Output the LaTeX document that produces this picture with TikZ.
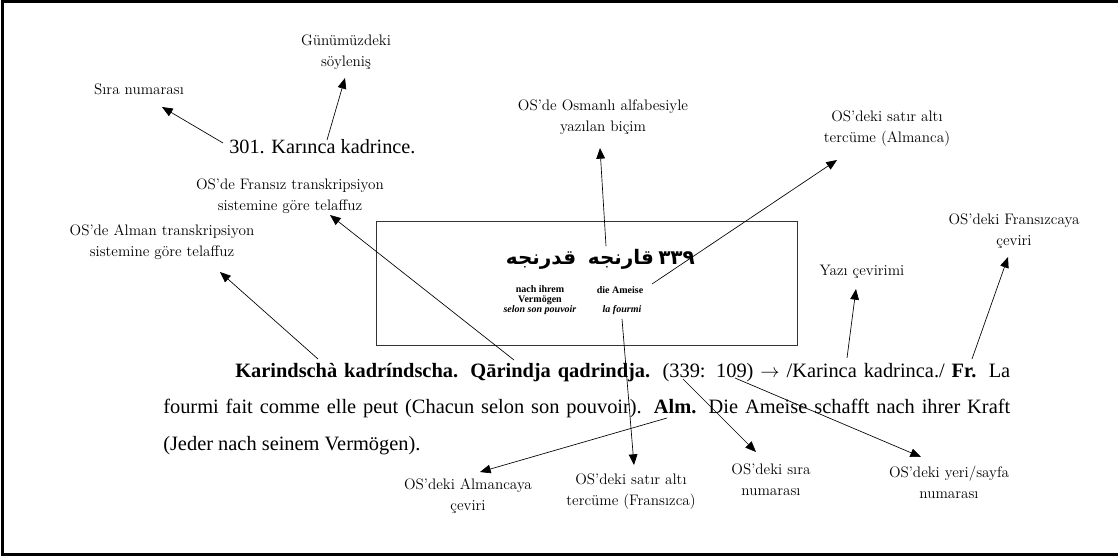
\documentclass[tikz,border=0pt]{standalone}
\usepackage{fontspec}
\usetikzlibrary{arrows.meta}
\newfontfamily\timesfont{Liberation Serif}
\newfontfamily\arabicfont[Script=Arabic]{DejaVu Sans}
\TeXXeTstate=1

\begin{document}
\begin{tikzpicture}[x=0.75pt,y=-0.75pt,
		etiket/.style={align=center,inner sep=0pt,font=\fontsize{11.4}{15.75}\selectfont},
		pil/.style={-{Triangle[length=8pt,width=6.5pt]},line width=0.5pt},
		satir/.style={anchor=base west,inner sep=0pt,font=\timesfont\fontsize{15.3}{27}\selectfont},
		arap/.style={inner sep=0pt,font=\arabicfont\bfseries\fontsize{15}{20}\selectfont},
		alti/.style={align=center,inner sep=0pt,font=\timesfont\bfseries\fontsize{7.5}{7.5}\selectfont}]
	\useasboundingbox (0,0) rectangle (1118,557);
	\draw[line width=2.25pt] (2,1.5) rectangle (1130,554.5);
	\draw[line width=0.6pt, black!80] (376,221) rectangle (797,345);
	% metin
	\node[anchor=base west,inner sep=0pt,font=\timesfont\fontsize{15.2}{18}\selectfont] (madde) at (229,153) {301. Karınca kadrince.};
	\node[arap,anchor=base] (kadr) at (541,264) {\beginR قدرنجه\endR};
	\node[arap,anchor=base] (kar) at (621,264) {\beginR قارنجه\endR};
	\node[arap,anchor=base west] (no) at (658,264) {٣٣٩};
	\node[alti] (nach) at (540,300) {nach ihrem\\Vermögen\\\textit{selon son pouvoir}};
	\node[alti] (ameise) at (620,290) {die Ameise};
	\node[alti] (fourmi) at (622,310) {\textit{la fourmi}};
	\node[satir] (line1) at (235,377) {\makebox[581.25pt][s]{\textbf{Karindschà kadríndscha. Qārindja qadrindja.} (339: 109) $\rightarrow$ /Karinca kadrinca./ \textbf{Fr.} La}};
	\node[satir] (line2) at (163,413) {\makebox[635.25pt][s]{fourmi fait comme elle peut (Chacun selon son pouvoir). \textbf{Alm.} Die Ameise schafft nach ihrer Kraft}};
	\node[satir] (line3) at (163,450) {(Jeder nach seinem Vermögen).};
	% etiketler
	\node[etiket] (gun) at (346,52) {Günümüzdeki\\söyleniş};
	\node[etiket] (sira) at (139,89) {Sıra numarası};
	\node[etiket] (fr) at (290,196) {OS’de Fransız transkripsiyon\\sistemine göre telaffuz};
	\node[etiket] (al) at (162,242) {OS’de Alman transkripsiyon\\sistemine göre telaffuz};
	\node[etiket] (osm) at (603,117.5) {OS’de Osmanlı alfabesiyle\\yazılan biçim};
	\node[etiket] (satal) at (887,129) {OS’deki satır altı\\tercüme (Almanca)};
	\node[etiket] (frc) at (1014,231) {OS’deki Fransızcaya\\çeviri};
	\node[etiket] (yazi) at (862,272) {Yazı çevirimi};
	\node[etiket] (satfr) at (631,492) {OS’deki satır altı\\tercüme (Fransızca)};
	\node[etiket] (alm) at (468,496.5) {OS’deki Almancaya\\çeviri};
	\node[etiket] (siraos) at (771,480) {OS’deki sıra\\numarası};
	\node[etiket] (sayfa) at (949,482.5) {OS’deki yeri/sayfa\\numarası};
	% oklar
	\coordinate (t-sira) at (223,143);   \coordinate (h-sira) at (162,107);
	\coordinate (t-gun) at (327,140);    \coordinate (h-gun) at (345,78);
	\coordinate (t-fr) at (514,360);     \coordinate (h-fr) at (330,215);
	\coordinate (t-al) at (318,359);     \coordinate (h-al) at (220,272);
	\coordinate (t-osm) at (606,246);    \coordinate (h-osm) at (600,148);
	\coordinate (t-satal) at (652,284);  \coordinate (h-satal) at (837,160);
	\coordinate (t-yazi) at (847,358);   \coordinate (h-yazi) at (856,289);
	\coordinate (t-frc) at (972,359);    \coordinate (h-frc) at (1008,257);
	\coordinate (t-satfr) at (622,319);  \coordinate (h-satfr) at (634,465);
	\coordinate (t-alm) at (667,418);    \coordinate (h-alm) at (480,472);
	\coordinate (t-siraos) at (683,379); \coordinate (h-siraos) at (756,452);
	\coordinate (t-sayfa) at (735,378);  \coordinate (h-sayfa) at (921,457);
	\foreach \n in {sira, gun, fr, al, osm, satal, yazi, frc, satfr, alm, siraos, sayfa}
		\draw[pil] (t-\n) -- (h-\n);
\end{tikzpicture}
\end{document}
